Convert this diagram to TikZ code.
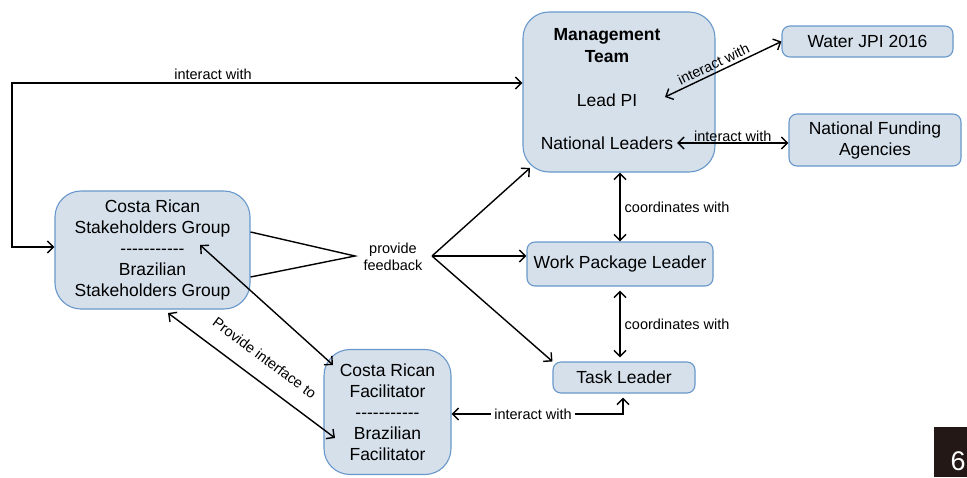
\documentclass[tikz,border=0pt]{standalone}
\usepackage{fontspec}
\setmainfont{Liberation Sans}[Ligatures=TeXOff]
\usetikzlibrary{arrows.meta,calc}

\begin{document}
\begin{tikzpicture}[x=1pt,y=-1pt,line width=1.4pt,
  >={Straight Barb[length=6pt,width=12pt]},
  box/.style={draw=boxline,fill=boxfill,line width=1.1pt,rounded corners=8pt,
    align=center,inner sep=0pt,font=\fontsize{17.5}{21}\selectfont},
  bigbox/.style={box,rounded corners=26pt},
  boxtext/.style={font=\fontsize{17.5}{21}\selectfont,align=center},
  lbl/.style={font=\fontsize{14.5}{17}\selectfont,align=center,inner sep=1pt}]
\definecolor{boxfill}{RGB}{213,224,235}
\definecolor{boxline}{RGB}{104,152,203}
\definecolor{badge}{RGB}{35,24,21}

\fill[white] (0,0) rectangle (967,477);
\useasboundingbox (0,0) rectangle (967,477);

% Management team and its partners.
\node[bigbox,minimum width=192,minimum height=160] (mgmt) at (619,92) {};
\node[boxtext,font=\fontsize{17.5}{22}\selectfont\bfseries] (mgmttitle) at (607,46)
  {Management\\Team};
\node[boxtext] (leadpi) at (607,100) {Lead PI};
\node[boxtext] (natlead) at (607,143) {National Leaders};
\node[box,minimum width=171,minimum height=31] (waterjpi) at (867.5,41.5)
  {Water JPI 2016};
\node[box,minimum width=172,minimum height=52] (nfa) at (875,140)
  {National Funding\\Agencies};

% Work packages.
\node[box,minimum width=186,minimum height=44] (wpl) at (620,264)
  {Work Package Leader};
\node[box,minimum width=142,minimum height=31] (task) at (624,377.5)
  {Task Leader};

% Stakeholders and facilitators.
\node[bigbox,minimum width=195,minimum height=118] (stake) at (152.5,250)
  {Costa Rican\\Stakeholders Group\\-----------\\Brazilian\\Stakeholders Group};
\node[bigbox,minimum width=127,minimum height=125] (facil) at (387.5,412)
  {Costa Rican\\Facilitator\\-----------\\Brazilian\\Facilitator};

% Page number.
\node[fill=badge,minimum width=33,minimum height=50,inner sep=0pt] (badgebox)
  at (950.5,452) {};
\node[text=white,font=\fontsize{27}{27}\selectfont,inner sep=0pt] (pagenum)
  at (958,461) {6};

% interact with: stakeholders and management.
\coordinate (elbowtop) at (12,83);
\coordinate (elbowlow) at (12,247);
\draw[<->] (mgmt.west |- elbowtop) -- (elbowtop) -- (elbowlow)
  -- (stake.west |- elbowlow);
\node[lbl] (lbltop) at (213,74) {interact with};

\coordinate (leadport) at (665,97);
\draw[<->] (leadport) -- (waterjpi.west)
  node[lbl,pos=0.45,sloped,above=2pt] (lblwater) {interact with};
\draw[<->] (natlead.east) -- (natlead.east -| nfa.west)
  node[lbl,midway,above] (lblnfa) {interact with};

% coordinates with.
\draw[<->] (mgmt.south -| wpl.north) -- (wpl.north)
  node[lbl,midway,right=3pt] (lblcoordA) {coordinates with};
\draw[<->,shorten <=4pt,shorten >=4pt] (wpl.south) -- (wpl.south |- task.north)
  node[lbl,midway,right=3pt] (lblcoordB) {coordinates with};

% provide feedback.
\node[lbl] (feedback) at (393,257) {provide\\feedback};
\coordinate (fbin) at (355,256);
\coordinate (fbout) at (432,256);
\coordinate (mgmtcorner) at (530,168);
\draw (stake.east |- 0,232) -- (fbin) -- (stake.east |- 0,277);
\draw[->] (fbout) -- (mgmtcorner);
\draw[->] (fbout) -- (fbout -| wpl.west);
\draw[->] (fbout) -- (task.north west);

% Provide interface to.
\coordinate (stakeA) at (200,245);
\coordinate (facilA) at (333,365);
\coordinate (stakeB) at (168,313);
\coordinate (facilB) at (335,438);
\draw[<->] (stakeA) -- (facilA);
\draw[<->] (stakeB) -- (facilB)
  node[lbl,midway,sloped,above=15pt] (lblface) {Provide interface to};

% interact with: task leader and facilitators.
\coordinate (taskelbow) at (623,414);
\draw[<->,shorten <=4pt] (task.south -| taskelbow) -- (taskelbow)
  -- (facil.east |- taskelbow);
\node[lbl,fill=white,inner xsep=3pt] (lbltask) at (533,414) {interact with};
\end{tikzpicture}
\end{document}
